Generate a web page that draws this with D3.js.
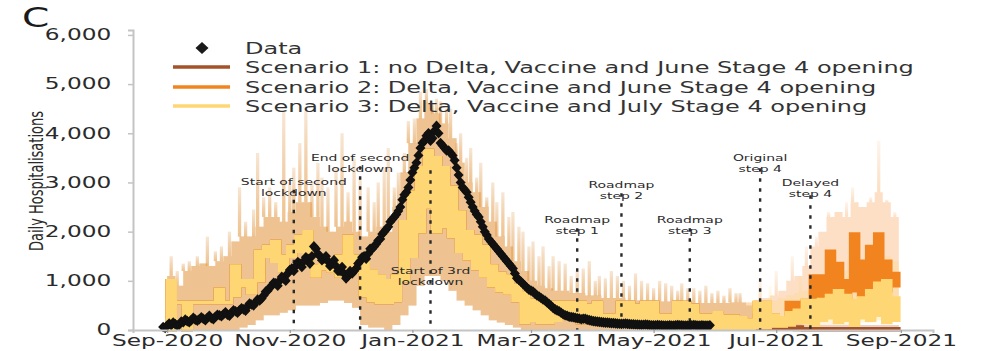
<!DOCTYPE html>
<html>
<head>
<meta charset="utf-8">
<script src="https://cdn.jsdelivr.net/npm/d3@7"></script>
<style>
  body { margin: 0; background: #fff; }
  svg { display: block; }
  text { font-family: "DejaVu Sans", sans-serif; }
</style>
</head>
<body>
<svg id="chart" width="985" height="351"></svg>
<script>
// ---------------- data ----------------
// Scenario projections on a 4-day grid starting 1 Sep 2020.
const gridStart = "2020-09-01";
const gridStepDays = 4;

// Common history of all three scenarios (grid steps 0..71): inner range and 95% band.
const sharedInnerLow = [0, 560, 0, 560, 560, 560, 560, 560, 700, 900,
  750, 1000, 1500, 1400, 1200, 1500, 1600, 1400, 1100, 1250,
  1200, 1100, 1100, 1200, 700, 600, 560, 560, 600, 1000,
  1500, 2000, 2500, 2000, 2100, 1900, 1600, 1450, 1250, 1100,
  900, 800, 750, 600, 150, 200, 150, 150, 200, 250,
  300, 150, 150, 150, 150, 150, 150, 100, 100, 100,
  100, 100, 100, 100, 100, 100, 50, 50, 30, 30,
  30, 30];
const sharedInnerHigh = [1000, 560, 560, 560, 560, 560, 830, 560, 1300, 1000,
  1000, 1600, 1700, 1800, 1500, 1700, 1900, 2000, 1300, 1400,
  1400, 1500, 1900, 1500, 1400, 1200, 1100, 1000, 1100, 2200,
  2800, 3300, 3650, 3500, 3300, 2900, 2400, 2000, 1900, 1700,
  1300, 1150, 1100, 900, 750, 600, 560, 560, 560, 560,
  560, 560, 500, 560, 300, 300, 560, 560, 500, 560,
  560, 300, 300, 560, 560, 500, 300, 300, 350, 280,
  280, 250];
const sharedBandLow = [0, 0, 0, 0, 0, 0, 0, 0, 0, 50,
  100, 200, 300, 300, 350, 400, 500, 500, 500, 550,
  600, 600, 550, 450, 100, 50, 50, 0, 100, 300,
  500, 900, 1100, 1100, 1000, 800, 600, 500, 400, 300,
  200, 150, 100, 50, 0, 0, 0, 0, 0, 0,
  0, 0, 0, 0, 0, 0, 0, 0, 0, 0,
  0, 0, 0, 0, 0, 0, 0, 0, 0, 0,
  0, 0];
const sharedBandHigh = [1100, 900, 1200, 1300, 1350, 1300, 1400, 1500, 1800, 1900,
  1900, 2100, 2300, 2300, 2200, 2400, 2600, 2600, 2300, 2100,
  2000, 2100, 2200, 2000, 1900, 2000, 2100, 2000, 2500, 3200,
  3800, 4300, 4600, 4400, 4200, 3900, 3400, 3000, 2800, 2500,
  2200, 1900, 1700, 1400, 1200, 1000, 900, 850, 800, 800,
  750, 750, 700, 700, 650, 650, 650, 600, 600, 600,
  600, 580, 580, 600, 580, 550, 550, 550, 550, 550,
  560, 560];

// Scenario-specific projections (grid steps 72..90).
const s1InnerLow  = [30, 40, 40, 30, 20, 20, 10, 5, 5, 5, 5, 5, 5, 5, 5, 5, 5, 5, 5];
const s1InnerHigh = [150, 300, 300, 200, 150, 100, 60, 25, 25, 25, 25, 25, 25, 25, 25, 25, 25, 25, 25];
const s1BandLow   = [0, 0, 0, 0, 0, 0, 0, 0, 0, 0, 0, 0, 0, 0, 0, 0, 0, 0, 0];
const s1BandHigh  = [500, 450, 400, 300, 250, 200, 150, 100, 100, 100, 100, 100, 100, 100, 100, 100, 100, 100, 100];

const s2InnerLow  = [30, 50, 50, 80, 80, 330, 330, 200, 600, 620, 700, 700, 620, 800, 700, 800, 700, 800, 900];
const s2InnerHigh = [200, 560, 560, 300, 250, 560, 560, 600, 1100, 1100, 1600, 1350, 1000, 1950, 1400, 1700, 1950, 1400, 1150];
const s2BandLow   = [0, 0, 0, 0, 0, 0, 50, 100, 200, 300, 300, 300, 300, 350, 350, 400, 400, 400, 400];
const s2BandHigh  = [560, 600, 650, 700, 800, 1000, 1100, 1300, 1700, 2000, 2300, 2400, 2300, 2600, 2500, 2600, 2800, 2600, 2300];

const s3InnerLow  = [30, 50, 50, 80, 80, 100, 150, 150, 100, 200, 250, 150, 200, 100, 250, 200, 300, 150, 200];
const s3InnerHigh = [200, 560, 560, 300, 250, 350, 400, 600, 600, 620, 700, 800, 700, 600, 650, 800, 950, 1000, 650];
const s3BandLow   = [0, 0, 0, 0, 0, 0, 0, 0, 0, 50, 100, 100, 100, 100, 150, 150, 200, 200, 200];
const s3BandHigh  = [560, 600, 600, 600, 650, 700, 750, 800, 900, 1000, 1100, 1200, 1200, 1300, 1300, 1400, 1500, 1500, 1400];

// Single-day upper-band excursions (days after 1 Sep 2020, hospitalisations).
const sharedSpikeDays = [2, 5, 8, 11, 15, 20, 24, 27, 31, 36, 39, 43, 45, 48, 51, 54, 58, 61, 63, 66,
  69, 72, 75, 77, 80, 84, 87, 90, 93, 96, 100, 103, 105, 108, 110, 113, 115, 118, 120, 123,
  126, 129, 132, 134, 136, 139, 141, 144, 146, 149, 151, 154, 156, 159, 162, 164, 167, 170, 172, 175,
  177, 180, 182, 185, 187, 190, 192, 195, 198, 201, 204, 207, 210, 213, 215, 218, 221, 224, 227, 230,
  233, 236, 239, 242, 245, 248, 251, 254, 256, 259, 262, 265, 268, 271, 274, 277, 280, 283, 285];
const sharedSpikeTops = [1500, 1200, 1350, 1400, 1500, 1900, 1600, 1700, 2000, 2900, 2200, 2450, 3600, 2700, 2900, 2600, 4450, 3000, 3300, 3800,
  4450, 3000, 3400, 3100, 2900, 3300, 4000, 2800, 3500, 3100, 2900, 2600, 3000, 3300, 3700, 2900, 3200, 3600, 4250, 4300,
  4850, 4900, 4600, 4700, 4650, 4500, 4500, 3800, 4000, 3500, 3700, 3100, 3400, 2700, 3000, 2600, 2800, 2300, 2400, 2100,
  2000, 1700, 1800, 1500, 1700, 1300, 1500, 1400, 1350, 1100, 1200, 1250, 1400, 1000, 1100, 1050, 1200, 1100, 1000, 900,
  1150, 1000, 950, 850, 1000, 950, 900, 800, 950, 850, 850, 800, 900, 750, 800, 700, 850, 750, 750];
const s2SpikeDays = [295, 303, 311, 318, 323, 329, 334, 338, 341, 347, 350, 354, 358, 362];
const s2SpikeTops = [1000, 1200, 1500, 1700, 1900, 2400, 2100, 2600, 2900, 2300, 2700, 3850, 2650, 2400];
const s3SpikeDays = [300, 315, 339, 355];
const s3SpikeTops = [900, 1100, 1500, 1700];

// Reported daily hospitalisations, 30 Aug 2020 to 29 May 2021.
const dataStart = "2020-08-30";
const dataValues = [60, 40, 90, 130, 100, 150, 120, 90, 110, 170,
  160, 210, 180, 160, 200, 250, 210, 190, 220, 260,
  230, 200, 250, 290, 240, 220, 270, 310, 300, 280,
  320, 360, 310, 290, 350, 400, 380, 350, 400, 440,
  420, 390, 480, 540, 520, 500, 560, 620, 600, 640,
  700, 780, 800, 860, 900, 960, 950, 900, 1000, 1080,
  1050, 1000, 1150, 1220, 1250, 1200, 1300, 1380, 1350, 1280,
  1400, 1480, 1450, 1350, 1500, 1700, 1650, 1550, 1500, 1420,
  1450, 1500, 1400, 1300, 1350, 1420, 1300, 1200, 1200, 1280,
  1150, 1050, 1100, 1200, 1150, 1200, 1250, 1350, 1400, 1480,
  1500, 1450, 1550, 1650, 1650, 1700, 1750, 1820, 1850, 1950,
  2000, 2050, 2100, 2200, 2250, 2300, 2350, 2420, 2500, 2650,
  2750, 2800, 2900, 3050, 3200, 3300, 3400, 3550, 3700, 3800,
  3850, 3950, 4000, 3850, 3900, 4050, 4150, 4000, 3800, 3750,
  3700, 3650, 3650, 3600, 3550, 3450, 3300, 3150, 3000, 2900,
  2850, 2800, 2700, 2600, 2500, 2420, 2350, 2300, 2200, 2100,
  2000, 1930, 1850, 1800, 1750, 1700, 1650, 1600, 1550, 1500,
  1450, 1400, 1350, 1300, 1250, 1150, 1050, 1020, 980, 940,
  900, 860, 820, 800, 780, 740, 700, 680, 650, 620,
  600, 560, 530, 490, 450, 420, 400, 380, 350, 320,
  300, 290, 270, 265, 260, 250, 240, 235, 220, 230,
  230, 210, 200, 190, 180, 175, 170, 165, 160, 155,
  150, 150, 145, 140, 140, 135, 130, 128, 125, 128,
  130, 125, 120, 118, 115, 112, 110, 108, 105, 108,
  110, 105, 100, 98, 95, 98, 100, 97, 95, 93,
  90, 92, 95, 93, 90, 95, 100, 97, 95, 92,
  90, 93, 95, 98, 100, 95, 90, 92, 95, 93,
  90, 92, 95];

// Policy events: date, two-line label, top of the marker line, label height.
const eventDates = ["2020-11-03", "2020-12-06", "2021-01-10", "2021-03-24", "2021-04-15", "2021-05-19", "2021-06-23", "2021-07-18"];
const eventLabels = [["Start of second", "lockdown"], ["End of second", "lockdown"], ["Start of 3rd", "lockdown"],
  ["Roadmap", "step 1"], ["Roadmap", "step 2"], ["Roadmap", "step 3"], ["Original", "step 4"], ["Delayed", "step 4"]];
const eventLineTops = [2850, 3330, 3250, 2070, 2780, 2070, 3290, 2740];
const eventLabelLevels = [2940, 3440, 1130, 2170, 2880, 2170, 3440, 2930];

const xTickDates = ["2020-09-01", "2020-11-01", "2021-01-01", "2021-03-01", "2021-05-01", "2021-07-01", "2021-09-01"];
const xTickLabels = ["Sep-2020", "Nov-2020", "Jan-2021", "Mar-2021", "May-2021", "Jul-2021", "Sep-2021"];
const yTickValues = [0, 1000, 2000, 3000, 4000, 5000, 6000];

const scenarioNames = ["Scenario 1: no Delta, Vaccine and June Stage 4 opening",
  "Scenario 2: Delta, Vaccine and June Stage 4 opening",
  "Scenario 3: Delta, Vaccine and July Stage 4 opening"];
const scenarioColors = ["#a3522a", "#f2841f", "#fed673"];

// ---------------- drawing ----------------
const parse = d3.utcParse("%Y-%m-%d");
const SX = 1.55;                 // horizontal text stretch
const svg = d3.select("#chart");

const x = d3.scaleUtc().domain([parse("2020-08-15"), parse("2021-09-17")]).range([133, 933]);
const y = d3.scaleLinear().domain([0, 6100]).range([330, 30]);

const t0 = parse(gridStart);
const dayDate = d => d3.utcDay.offset(t0, d);

function fullSeries(shared, own) {
  const v = shared.concat(own);
  return v.concat([v[v.length - 1]]);
}
const scen = [
  {inLo: s1InnerLow, inHi: s1InnerHigh, bLo: s1BandLow, bHi: s1BandHigh, spD: [], spT: []},
  {inLo: s2InnerLow, inHi: s2InnerHigh, bLo: s2BandLow, bHi: s2BandHigh, spD: s2SpikeDays, spT: s2SpikeTops},
  {inLo: s3InnerLow, inHi: s3InnerHigh, bLo: s3BandLow, bHi: s3BandHigh, spD: s3SpikeDays, spT: s3SpikeTops}
].map((s, k) => {
  const inLo = fullSeries(sharedInnerLow, s.inLo);
  const inHi = fullSeries(sharedInnerHigh, s.inHi);
  const bLo = fullSeries(sharedBandLow, s.bLo);
  const bHi = fullSeries(sharedBandHigh, s.bHi);
  const rows = inLo.map((_, i) => ({
    date: dayDate(i * gridStepDays), inLo: inLo[i], inHi: inHi[i], bLo: bLo[i], bHi: bHi[i]
  }));
  const spikes = sharedSpikeDays.map((d, j) => ({day: d, top: sharedSpikeTops[j]}))
    .concat(s.spD.map((d, j) => ({day: d, top: s.spT[j]})));
  return {rows, spikes, color: scenarioColors[k]};
});

const defs = svg.append("defs");
scen.forEach((s, k) => {
  const g = defs.append("linearGradient").attr("id", "fade" + k)
    .attr("x1", 0).attr("y1", 1).attr("x2", 0).attr("y2", 0);
  g.append("stop").attr("offset", 0).attr("stop-color", s.color).attr("stop-opacity", 0.27);
  g.append("stop").attr("offset", 1).attr("stop-color", s.color).attr("stop-opacity", 0.08);
});

const plot = svg.append("g");

// 95% bands
const bandArea = d3.area().curve(d3.curveStepAfter)
  .x(d => x(d.date)).y0(d => y(d.bLo)).y1(d => y(d.bHi));
scen.forEach(s => {
  plot.append("path").datum(s.rows).attr("d", bandArea)
    .attr("fill", s.color).attr("fill-opacity", 0.26);
});

// band excursions
scen.forEach((s, k) => {
  const n = s.rows.length - 1;
  s.spikes.forEach(sp => {
    const i = Math.min(n - 1, Math.floor(sp.day / gridStepDays));
    const base = s.rows[i].bHi;
    if (sp.top <= base) return;
    const cx = x(dayDate(sp.day));
    plot.append("rect").attr("x", cx - 1.6).attr("width", 3.2)
      .attr("y", y(sp.top)).attr("height", y(base) - y(sp.top))
      .attr("fill", `url(#fade${k})`);
  });
});

// inner projection ranges
const innerArea = d3.area().curve(d3.curveStepAfter)
  .x(d => x(d.date)).y0(d => y(d.inLo)).y1(d => y(d.inHi));
scen.forEach(s => {
  plot.append("path").datum(s.rows).attr("d", innerArea)
    .attr("fill", s.color).attr("stroke", s.color)
    .attr("stroke-width", 3.5).attr("stroke-linejoin", "miter");
});

// event markers
const evG = svg.append("g");
eventDates.forEach((d, i) => {
  const ex = x(parse(d));
  evG.append("line").attr("x1", ex).attr("x2", ex)
    .attr("y1", y(eventLineTops[i])).attr("y2", y(0))
    .attr("stroke", "#2a2a2a").attr("stroke-width", 2.4)
    .attr("stroke-dasharray", "3.5,6.5");
});

// reported data
const d0 = parse(dataStart);
const diamond = "M0,-5.3L5,0L0,5.3L-5,0Z";
svg.append("g").selectAll("path").data(dataValues).join("path")
  .attr("d", diamond)
  .attr("transform", (v, i) => `translate(${x(d3.utcDay.offset(d0, i))},${y(v)})`)
  .attr("fill", "#111");

// event labels
eventDates.forEach((d, i) => {
  const ex = x(parse(d));
  const ly = y(eventLabelLevels[i]);
  eventLabels[i].forEach((line, j) => {
    evG.append("text").attr("transform", `translate(${ex},${ly + j * 11}) scale(${SX},1)`)
      .attr("text-anchor", "middle").attr("font-size", 9).attr("fill", "#2b2b2b")
      .text(line);
  });
});

// axes
const axisColor = "#c4c4c4";
const yAxis = svg.append("g").attr("transform", "translate(133,0)")
  .call(d3.axisLeft(y).tickValues(yTickValues).tickFormat(d3.format(",")).tickSize(5).tickPadding(9));
yAxis.select(".domain").attr("stroke", axisColor).attr("stroke-width", 2);
yAxis.selectAll(".tick line").attr("stroke", axisColor).attr("stroke-width", 1.5);
yAxis.selectAll("text").attr("font-size", 15).attr("fill", "#2a2a2a")
  .attr("font-family", "DejaVu Sans").attr("transform", `scale(${SX},1)`);

const xAxis = svg.append("g").attr("transform", `translate(0,${y(0)})`)
  .call(d3.axisBottom(x).tickValues(xTickDates.map(parse))
    .tickFormat((d, i) => xTickLabels[i]).tickSize(3));
xAxis.select(".domain").attr("stroke", axisColor).attr("stroke-width", 2);
xAxis.selectAll(".tick line").attr("stroke", "#999").attr("stroke-width", 1.2);
xAxis.selectAll("text").attr("font-size", 15).attr("fill", "#2a2a2a")
  .attr("font-family", "DejaVu Sans").attr("y", 16).attr("dy", 0)
  .attr("transform", `scale(${SX},1)`);

// y label
svg.append("text")
  .attr("transform", `translate(36,181) scale(${SX},1) rotate(-90)`)
  .attr("text-anchor", "middle").attr("dominant-baseline", "central")
  .attr("font-size", 13).attr("fill", "#2a2a2a")
  .text("Daily Hospitalisations");

// panel letter
svg.append("text").attr("transform", `translate(22,27) scale(1.45,1)`)
  .attr("font-size", 27).attr("fill", "#1a1a1a").text("C");

// legend
const LSX = 1.6;
const lg = svg.append("g");
lg.append("path").attr("d", "M0,-6L6.5,0L0,6L-6.5,0Z")
  .attr("transform", "translate(202,48)").attr("fill", "#1a1a1a");
lg.append("text").attr("transform", `translate(245,53.5) scale(${LSX},1)`)
  .attr("font-size", 15).attr("fill", "#333").text("Data");
scenarioNames.forEach((name, k) => {
  const ly = [67, 87, 106][k];
  lg.append("line").attr("x1", 173).attr("x2", 230).attr("y1", ly).attr("y2", ly)
    .attr("stroke", scenarioColors[k]).attr("stroke-width", 3.5);
  lg.append("text").attr("transform", `translate(245,${ly + 5.5}) scale(${LSX},1)`)
    .attr("font-size", 15).attr("fill", "#333").text(name);
});
</script>
</body>
</html>
